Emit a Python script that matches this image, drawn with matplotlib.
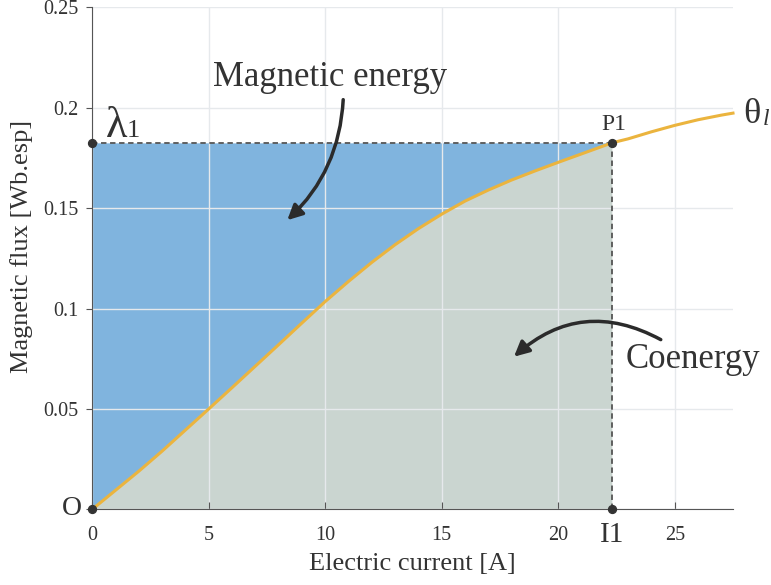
import numpy as np
import matplotlib
matplotlib.use('Agg')
import matplotlib.pyplot as plt

plt.rcParams['font.family'] = ['Liberation Serif', 'DejaVu Serif']

# magnetisation curve
current = [0, 1, 2, 3, 4, 5, 6, 7, 8, 9, 10, 11, 12, 13, 14, 15, 16, 17, 18, 19, 20, 21, 22, 22.3,
           23, 24, 25, 26, 27, 27.5]
flux = [0, 0.0095, 0.019, 0.029, 0.0395, 0.05, 0.0606, 0.0713, 0.082, 0.0928, 0.1035, 0.1135, 0.123,
        0.1318, 0.1398, 0.147, 0.1535, 0.159, 0.164, 0.1685, 0.1728, 0.177, 0.1812, 0.1825,
        0.1845, 0.188, 0.1912, 0.194, 0.1963, 0.1973]
i1 = 22.3
lambda1 = 0.1825
xticks = [0, 5, 10, 15, 20, 25]
yticks = [0, 0.05, 0.1, 0.15, 0.2, 0.25]
ytick_labels = ['', '0.05', '0.1', '0.15', '0.2', '0.25']

x = np.array(current)
y = np.array(flux)
m = x <= i1

fig = plt.figure(figsize=(7.71, 5.85), dpi=100)
ax = fig.add_axes([0.1197, 0.1294, 0.831, 0.8581])

# areas
ax.fill_between(x[m], y[m], lambda1, color='#80b4de', lw=0, zorder=1)
ax.fill_between(x[m], 0, y[m], color='#cad5d0', lw=0, zorder=1)
ax.grid(True, color='#e6e9ec', lw=1, zorder=2)
ax.set_axisbelow(False)
for gl in ax.get_xgridlines() + ax.get_ygridlines():
    gl.set_zorder(2)

ax.plot(x, y, color='#ebb43e', lw=2.2, zorder=4, clip_on=False, solid_joinstyle='round')
ax.plot([0, i1], [lambda1, lambda1], ls=(0, (3, 2)), color='#555555', lw=1.3, zorder=3)
ax.plot([i1, i1], [0, lambda1], ls=(0, (3, 2)), color='#555555', lw=1.3, zorder=3)
ax.scatter([0, 0, i1, i1], [0, lambda1, lambda1, 0], s=32, color='#333333', zorder=6, clip_on=False)

ax.set_xlim(0, 27.5)
ax.set_ylim(0, 0.25)
ax.set_xticks(xticks)
ax.set_yticks(yticks)
ax.set_yticklabels(ytick_labels)
for s in ['top', 'right']:
    ax.spines[s].set_visible(False)
for s in ['left', 'bottom']:
    ax.spines[s].set_color('#555555')
    ax.spines[s].set_zorder(5)
ax.tick_params(axis='x', direction='in', length=5, color='#555555', labelsize=14.5, labelcolor='#333333', pad=12)
ax.tick_params(axis='y', direction='out', length=4, color='#555555', labelsize=14.5, labelcolor='#333333', pad=6)
ax.set_xlabel('Electric current [A]', fontsize=19, color='#333333', labelpad=6)
ax.set_ylabel('Magnetic flux [Wb.esp]', fontsize=19, color='#333333')
ax.yaxis.set_label_coords(-0.093, 0.524)

# point labels
ax.text(-0.45, 0.0005, 'O', fontsize=20, color='#333333', ha='right', va='center')
ax.text(0.6, 0.1854, 'λ', fontsize=32, color='#333333', ha='left', va='baseline')
ax.text(1.47, 0.1854, '1', fontsize=19, color='#333333', ha='left', va='baseline')
ax.text(i1 + 0.1, 0.1891, 'P1', fontsize=17, color='#333333', ha='center', va='baseline')
ax.text(i1, -0.0065, 'I1', fontsize=21, color='#333333', ha='center', va='top')
ax.text(27.96, 0.1923, 'θ', fontsize=26, color='#333333', ha='left', va='baseline', clip_on=False)
ax.text(28.78, 0.1914, 'l', fontsize=17, style='italic', color='#333333', ha='left', va='baseline', clip_on=False)

# annotations
ax.annotate('', xy=(8.37, 0.144), xytext=(10.77, 0.204),
            arrowprops=dict(arrowstyle='-|>,head_length=0.9,head_width=0.45', color='#2b2b2b', lw=2.5,
                            connectionstyle='arc3,rad=-0.2', shrinkA=0, shrinkB=0), zorder=7)
ax.text(10.2, 0.215, 'Magnetic energy', fontsize=25, color='#333333', ha='center', va='center')
ax.annotate('', xy=(18.1, 0.076), xytext=(24.4, 0.0845),
            arrowprops=dict(arrowstyle='-|>,head_length=0.9,head_width=0.45', color='#2b2b2b', lw=2.5,
                            connectionstyle='arc3,rad=0.35', shrinkA=0, shrinkB=0), zorder=7)
ax.text(25.8, 0.0745, 'Coenergy', fontsize=25, color='#333333', ha='center', va='center', clip_on=False)

fig.savefig('out.png', dpi=100)
